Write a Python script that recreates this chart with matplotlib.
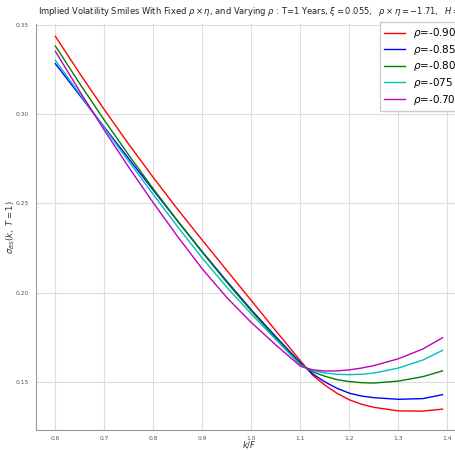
import numpy as np
import matplotlib
matplotlib.use("Agg")
import matplotlib.pyplot as plt

# strikes k/F
k = [0.60, 0.65, 0.70, 0.75, 0.80, 0.85, 0.90, 0.95, 1.00, 1.05, 1.10,
     1.125, 1.15, 1.175, 1.20, 1.225, 1.25, 1.30, 1.35, 1.39]

# implied vols for each rho
vol_090 = [0.3435, 0.3226, 0.3024, 0.2830, 0.2644, 0.2465, 0.2293, 0.2124, 0.1955, 0.1786, 0.1618,
           0.1538, 0.1482, 0.1436, 0.1400, 0.1375, 0.1358, 0.1338, 0.1337, 0.1348]
vol_085 = [0.3282, 0.3104, 0.2926, 0.2749, 0.2573, 0.2399, 0.2228, 0.2063, 0.1903, 0.1753, 0.1607,
           0.1545, 0.1500, 0.1464, 0.1437, 0.1421, 0.1412, 0.1403, 0.1407, 0.1429]
vol_080 = [0.3381, 0.3169, 0.2965, 0.2769, 0.2580, 0.2400, 0.2225, 0.2057, 0.1897, 0.1744, 0.1600,
           0.1556, 0.1532, 0.1513, 0.1502, 0.1496, 0.1494, 0.1505, 0.1530, 0.1562]
vol_075 = [0.3301, 0.3111, 0.2922, 0.2734, 0.2549, 0.2367, 0.2192, 0.2030, 0.1880, 0.1737, 0.1595,
           0.1563, 0.1550, 0.1543, 0.1541, 0.1543, 0.1550, 0.1578, 0.1623, 0.1677]
vol_070 = [0.3351, 0.3126, 0.2909, 0.2701, 0.2502, 0.2312, 0.2132, 0.1972, 0.1832, 0.1707, 0.1588,
           0.1568, 0.1561, 0.1562, 0.1568, 0.1578, 0.1592, 0.1630, 0.1685, 0.1748]

series = [vol_090, vol_085, vol_080, vol_075, vol_070]
labels = [r'$\rho$=-0.90', r'$\rho$=-0.85', r'$\rho$=-0.80', r'$\rho$=-075', r'$\rho$=-0.70']
colors = ['r', 'b', 'g', 'c', 'm']

fig = plt.figure(figsize=(4.56, 4.5), dpi=100)
ax = fig.add_axes([0.079, 0.044, 0.934, 0.903])

for v, lab, c in zip(series, labels, colors):
    ax.plot(k, v, color=c, lw=1.0, label=lab)

ax.set_xlim(0.5605, 1.4295)
ax.set_ylim(0.123, 0.3505)
ax.set_xticks([0.6, 0.7, 0.8, 0.9, 1.0, 1.1, 1.2, 1.3, 1.4])
ax.set_yticks([0.15, 0.20, 0.25, 0.30, 0.35])
ax.tick_params(labelsize=4.3, length=0, colors='#555555')
ax.tick_params(axis='x', pad=4)
ax.tick_params(axis='y', pad=5)
ax.grid(True, color='#dddddd', lw=0.8)
for s in ['top', 'right']:
    ax.spines[s].set_visible(False)
for s in ['left', 'bottom']:
    ax.spines[s].set_color('#999999')
    ax.spines[s].set_linewidth(0.8)

ax.set_xlabel(r'$k/F$', fontsize=6, color='#333333', labelpad=-1)
ax.set_ylabel(r'$\sigma_{BS}(k,\ T=1)$', fontsize=6, color='#333333')
ax.yaxis.set_label_coords(-0.045, 0.5)
fig.text(38 / 456, 1 - 11 / 450,
         r'Implied Volatility Smiles With Fixed $\rho\times\eta$, and Varying $\rho$ : T=1 Years, '
         r'$\xi=0.055,\ \ \rho\times\eta=-1.71,\ \ H=0.1$',
         fontsize=6.0, color='#222222', ha='left', va='center')

ax.legend(loc='upper right', bbox_to_anchor=(1.005, 1.012), fontsize=7.5,
          handlelength=2.0, labelspacing=0.25, borderaxespad=0.3,
          framealpha=1.0, edgecolor='#cccccc', fancybox=False)

fig.savefig('out.png', dpi=100)
